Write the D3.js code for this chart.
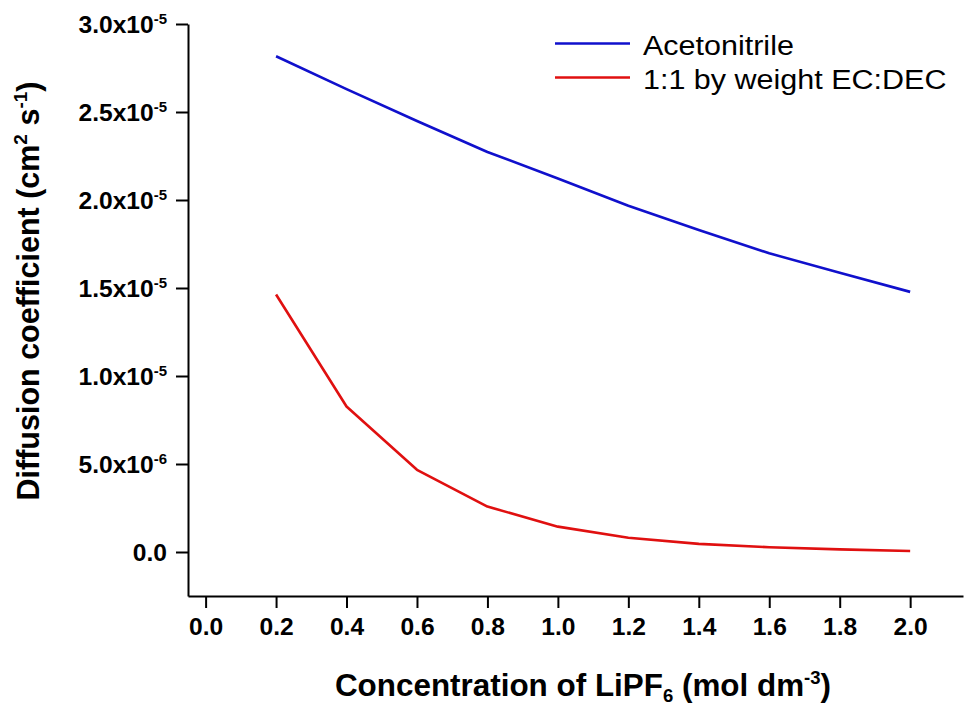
<!DOCTYPE html>
<html><head><meta charset="utf-8">
<script src="https://cdn.jsdelivr.net/npm/d3@7/dist/d3.min.js"></script>
<style>
body{margin:0;background:#fff}
text{font-family:"Liberation Sans",Arial,Helvetica,sans-serif}
</style>
</head><body>
<svg id="chart" width="976" height="708"></svg>
<script>
// ---- data ----
const concentrations = [0.2, 0.4, 0.6, 0.8, 1.0, 1.2, 1.4, 1.6, 1.8, 2.0];
const acetonitrile = [2.817e-5, 2.630e-5, 2.449e-5, 2.273e-5, 2.122e-5, 1.967e-5, 1.829e-5, 1.697e-5, 1.586e-5, 1.478e-5];
const ecDec = [1.463e-5, 0.827e-5, 0.467e-5, 0.258e-5, 0.144e-5, 0.081e-5, 0.046e-5, 0.027e-5, 0.015e-5, 0.006e-5];
const seriesNames = ["Acetonitrile", "1:1 by weight EC:DEC"];
const seriesColors = ["#1010cc", "#e01010"];
const xTickValues = [0.0, 0.2, 0.4, 0.6, 0.8, 1.0, 1.2, 1.4, 1.6, 1.8, 2.0];
const xTickLabels = ["0.0", "0.2", "0.4", "0.6", "0.8", "1.0", "1.2", "1.4", "1.6", "1.8", "2.0"];
const yTickValues = [0, 5e-6, 1.0e-5, 1.5e-5, 2.0e-5, 2.5e-5, 3.0e-5];
const yTickMantissa = ["0.0", "5.0x10", "1.0x10", "1.5x10", "2.0x10", "2.5x10", "3.0x10"];
const yTickExponent = ["", "-6", "-5", "-5", "-5", "-5", "-5"];
const xDomain = [-0.05, 2.15];
const yDomain = [-2.5e-6, 3.0e-5];

// ---- layout ----
const svg = d3.select("#chart");
const L = 188, R = 963, T = 24, B = 596;
const x = d3.scaleLinear().domain(xDomain).range([L, R]);
const y = d3.scaleLinear().domain(yDomain).range([B, T]);
const SX = 1.07;

// x axis
const gx = svg.append("g").attr("transform", `translate(0,${B})`)
  .call(d3.axisBottom(x).tickValues(xTickValues).tickSize(12).tickSizeOuter(0)
    .tickFormat((d, i) => xTickLabels[i]));
gx.select(".domain").attr("stroke", "#000").attr("stroke-width", 2);
gx.selectAll(".tick line").attr("stroke", "#000").attr("stroke-width", 2);
gx.selectAll(".tick text")
  .attr("dy", null).attr("y", 39)
  .attr("transform", `scale(${SX},1)`)
  .attr("font-size", 23).attr("font-weight", "bold").attr("fill", "#000")
  .attr("font-family", '"Liberation Sans",Arial,sans-serif');

// y axis
const gy = svg.append("g").attr("transform", `translate(${L},0)`)
  .call(d3.axisLeft(y).tickValues(yTickValues).tickSize(12).tickSizeOuter(0).tickFormat(""));
gy.select(".domain").attr("stroke", "#000").attr("stroke-width", 2);
gy.selectAll(".tick line").attr("stroke", "#000").attr("stroke-width", 2);
gy.selectAll(".tick text").each(function (d, i) {
  const t = d3.select(this);
  t.text(null)
    .attr("x", -21 / SX).attr("dy", "0.36em")
    .attr("transform", `scale(${SX},1)`)
    .attr("text-anchor", "end")
    .attr("font-size", 23).attr("font-weight", "bold").attr("fill", "#000")
    .attr("font-family", '"Liberation Sans",Arial,sans-serif');
  t.append("tspan").text(yTickMantissa[i]);
  if (yTickExponent[i]) t.append("tspan").attr("font-size", 14).attr("dy", -9).text(yTickExponent[i]);
});

// lines
const seriesValues = [acetonitrile, ecDec];
const line = d3.line().x(d => x(d[0])).y(d => y(d[1]));
seriesValues.forEach((vals, s) => {
  svg.append("path")
    .datum(concentrations.map((c, i) => [c, vals[i]]))
    .attr("d", line)
    .attr("fill", "none")
    .attr("stroke", seriesColors[s])
    .attr("stroke-width", 2.6)
    .attr("stroke-linejoin", "round");
});

// legend
const legend = svg.append("g");
seriesNames.forEach((name, i) => {
  const ly = 43.5 + i * 34;
  legend.append("line").attr("x1", 555).attr("x2", 630).attr("y1", ly).attr("y2", ly)
    .attr("stroke", seriesColors[i]).attr("stroke-width", 2.6);
  legend.append("text").attr("transform", `translate(643,${ly + 11}) scale(1.13,1)`)
    .attr("font-size", 27).attr("fill", "#000").text(name);
});

// x title
const xt = svg.append("text").attr("transform", "translate(583,696) scale(1.03,1)")
  .attr("text-anchor", "middle").attr("font-size", 30.5).attr("font-weight", "bold").attr("fill", "#000");
xt.append("tspan").text("Concentration of LiPF");
xt.append("tspan").attr("font-size", 18).attr("dy", 6).text("6");
xt.append("tspan").attr("dy", -6).text(" (mol dm");
xt.append("tspan").attr("font-size", 18).attr("dy", -12).text("-3");
xt.append("tspan").attr("dy", 12).text(")");

// y title
const yt = svg.append("text").attr("transform", "translate(39,291) rotate(-90)")
  .attr("text-anchor", "middle").attr("font-size", 30.5).attr("font-weight", "bold").attr("fill", "#000");
yt.append("tspan").text("Diffusion coefficient (cm");
yt.append("tspan").attr("font-size", 19).attr("dy", -12).text("2");
yt.append("tspan").attr("dy", 12).text(" s");
yt.append("tspan").attr("font-size", 19).attr("dy", -12).text("-1");
yt.append("tspan").attr("dy", 12).text(")");
</script>
</body></html>
